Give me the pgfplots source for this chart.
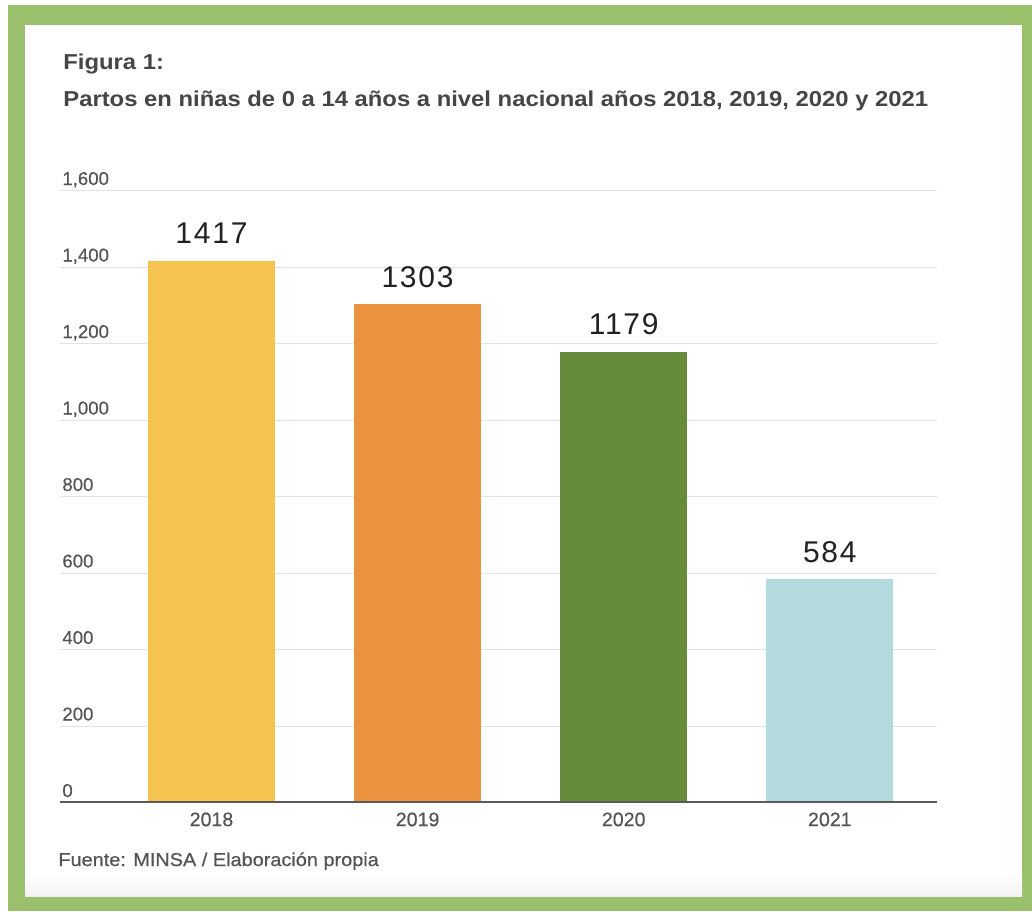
\documentclass[border=0pt]{standalone}
\usepackage{pgfplots}
\pgfplotsset{compat=1.18}
\usepackage{fontspec}
\setmainfont{Liberation Sans}
\newfontfamily\titlefont[FakeStretch=1.103]{Liberation Sans Bold}
\newfontfamily\srcfont[FakeStretch=1.07, FakeBold=0.6]{Liberation Sans}
\newfontfamily\tickfont[FakeBold=0.4]{Liberation Sans}
\definecolor{framec}{HTML}{9BC06B}
\definecolor{titlec}{HTML}{454545}
\definecolor{tickc}{HTML}{555555}
\definecolor{valc}{HTML}{222222}
\definecolor{gridc}{HTML}{E3E3E3}
\definecolor{basec}{HTML}{5A5A5A}
\definecolor{cA}{HTML}{F5C350}
\definecolor{cB}{HTML}{EA923E}
\definecolor{cC}{HTML}{668B3A}
\definecolor{cD}{HTML}{B3DBDF}
\begin{document}
\begin{tikzpicture}
\fill[white] (0,0) rectangle (516pt,-455.5pt);
\useasboundingbox (0,0) rectangle (516pt,-455.5pt);
\fill[framec] (4pt,-2.5pt) rectangle (516pt,-455.5pt);
\fill[white] (12.5pt,-12.5pt) rectangle (511pt,-448pt);
\shade[top color=white,bottom color=black!5] (12.5pt,-437pt) rectangle (511pt,-448pt);
\node[anchor=base west, inner sep=0pt, text=titlec, font=\titlefont\fontsize{10.8}{12}\selectfont] at (31.5pt,-34.5pt) {Figura 1:};
\node[anchor=base west, inner sep=0pt, text=titlec, font=\titlefont\fontsize{10.8}{12}\selectfont] at (31.5pt,-53pt) {Partos en niñas de 0 a 14 años a nivel nacional años 2018, 2019, 2020 y 2021};
\node[anchor=base west, inner sep=0pt, text=tickc, font=\srcfont\fontsize{9.3}{11}\selectfont] at (29pt,-433pt) {Fuente: MINSA / Elaboración propia};
\begin{axis}[
  at={(30pt,-401.35pt)}, anchor=south west,
  scale only axis, width=438.5pt, height=306pt,
  xmin=-0.735, xmax=3.52, ymin=0, ymax=1600,
  ytick={0,200,...,1600},
  xtick={0,1,2,3}, xticklabels={2018,2019,2020,2021},
  ymajorgrids, grid style={draw=gridc, line width=0.6pt},
  axis line style={draw=none},
  major tick length=0pt,
  /pgf/number format/.cd, 1000 sep={,}, assume math mode=true, /pgfplots/.cd,
  yticklabel style={anchor=base west, inner sep=0pt, xshift=1pt, yshift=2.85pt, text=tickc, font=\tickfont\fontsize{9.3}{11}\selectfont},
  xticklabel style={anchor=north, inner sep=0pt, yshift=-4.7pt, text=tickc, font=\tickfont\fontsize{9.8}{11}\selectfont},
  ybar, bar width=63.5pt, bar shift=0pt,
  nodes near coords={\pgfmathprintnumber[1000 sep={}]{\pgfplotspointmeta}},
  every node near coord/.append style={anchor=base, inner sep=0pt, yshift=8.5pt, text=valc, font=\fontsize{15}{17}\selectfont\addfontfeature{LetterSpace=6}},
]
\addplot[fill=cA, draw=none] coordinates {(0,1417)};
\addplot[fill=cB, draw=none] coordinates {(1,1303)};
\addplot[fill=cC, draw=none] coordinates {(2,1179)};
\addplot[fill=cD, draw=none] coordinates {(3,584)};
\draw[basec, line width=1.5pt] (rel axis cs:0,0) -- (rel axis cs:1,0);
\end{axis}
\end{tikzpicture}
\end{document}
